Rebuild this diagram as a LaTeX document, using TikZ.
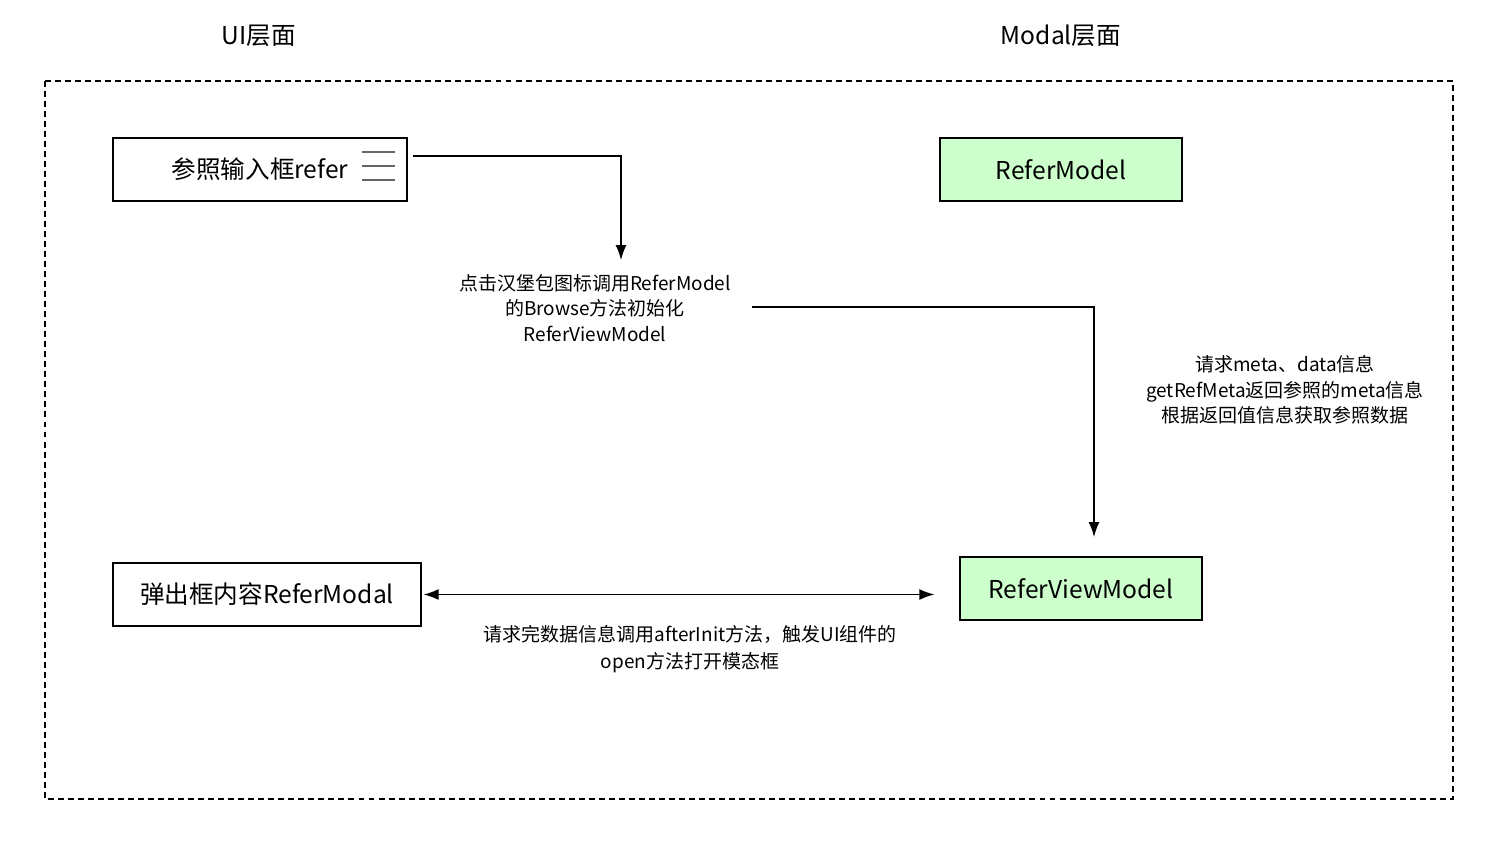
\documentclass[tikz,border=0pt]{standalone}
\usepackage{fontspec}
\setmainfont{Noto Sans CJK SC}
\usetikzlibrary{positioning}
\usetikzlibrary{arrows.meta}

\begin{document}
\begin{tikzpicture}
[x = 0.02cm, y = -0.02cm,
ui box/.style = {draw, line width = 0.8pt, fill = white, minimum height = 1.26cm, font = \fontsize{14}{17}\selectfont},
model box/.style = {ui box, fill = modelgreen, minimum width = 4.84cm},
layer title/.style = {font = \fontsize{14}{17}\selectfont},
flow text/.style = {align = center, font = \fontsize{10.8}{14.5}\selectfont},
flow line/.style = {line width = 0.8pt, -{Latex[length = 3mm, width = 2.2mm]}}]

\definecolor{modelgreen}{RGB}{204,255,204}

\useasboundingbox (0, 0) rectangle (1500, 865);

\node[layer title] (ui title) at (259, 36) {UI层面};
\node[layer title] (modal title) at (1061, 36) {Modal层面};
\draw[line width = 0.6pt, dash pattern = on 3.4pt off 2.3pt] (45, 81) rectangle (1453, 799);

% UI side
\node[ui box, minimum width = 5.88cm] (refer input) at (260, 169.5) {参照输入框refer};
\foreach \y in {152, 166, 180} \draw[gray!80!black, line width = 1.4pt] (362, \y) -- (395, \y);
\node[ui box, minimum width = 6.16cm] (refer modal) at (267, 594.5) {弹出框内容ReferModal};

% Modal side
\node[model box] (refer model) at (1061, 169.5) {ReferModel};
\node[model box] (refer view model) at (1081, 588.5) {ReferViewModel};

% flow
\coordinate (browse top) at (621, 260);
\coordinate (view top) at (1094, 537);
\node[flow text] (browse text) at (595, 308) {点击汉堡包图标调用ReferModel\\的Browse方法初始化\\ReferViewModel};
\node[flow text] (meta text) at (1285, 390) {请求meta、data信息\\getRefMeta返回参照的meta信息\\根据返回值信息获取参照数据};
\node[flow text, font = \fontsize{10.8}{15.3}\selectfont] (open text) at (690, 649) {请求完数据信息调用afterInit方法，触发UI组件的\\open方法打开模态框};

\draw[flow line] ([xshift = 0.1cm, yshift = 0.27cm]refer input.east) -| (browse top);
\draw[flow line] ([xshift = 0.3cm, yshift = 0.02cm]browse text.east) -| (view top);
\draw[flow line, {Latex[length = 3mm, width = 2.2mm]}-{Latex[length = 3mm, width = 2.2mm]}, shorten > = 0.5cm] ([xshift = 0.04cm]refer modal.east) -- (refer modal.east -| refer view model.west);
\end{tikzpicture}
\end{document}
